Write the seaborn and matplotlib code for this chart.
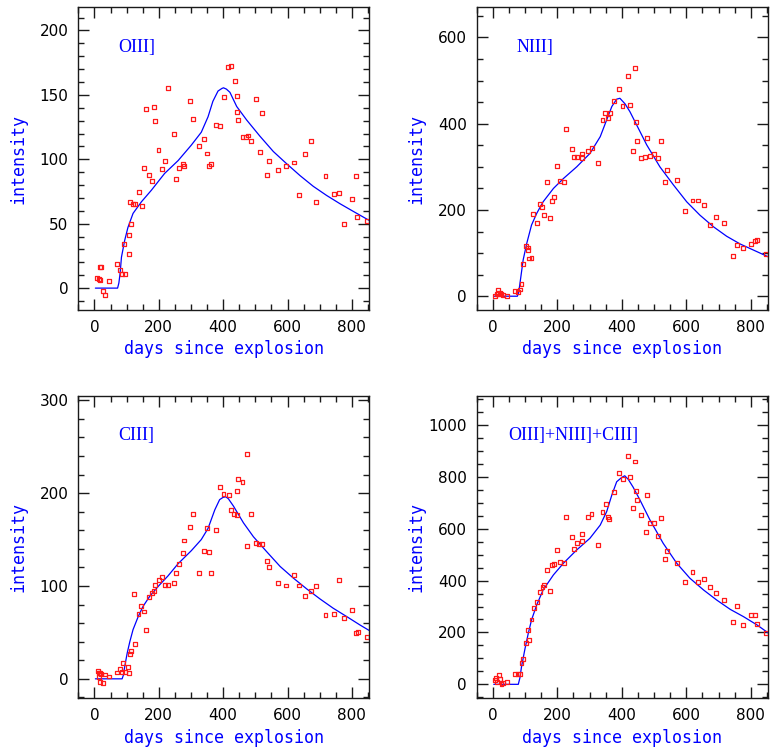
import numpy as np
import pandas as pd
import seaborn as sns
import matplotlib.pyplot as plt
from matplotlib.ticker import MultipleLocator

# observed line intensities (days since explosion, intensity)
o3_day = [9, 13, 17, 18, 21, 27, 32, 44, 69, 80, 86, 96, 91, 106, 106, 113, 110, 120, 127, 138,
          147, 154, 161, 169, 178, 186, 189, 199, 209, 220, 228, 246, 253, 263, 276, 277, 297, 306,
          325, 340, 350, 355, 361, 377, 389, 402, 416, 424, 436, 443, 444, 447, 460, 472, 476, 487,
          502, 514, 522, 535, 541, 570, 596, 619, 635, 653, 674, 689, 718, 743, 759, 775, 799, 814,
          817, 848]
o3_int = [8, 7, 6.5, 16.5, 16.5, -2.5, -5.5, 5.5, 18.5, 14, 11, 11, 34, 26.5, 41, 49.5, 67, 65.5,
          65.5, 74.5, 63.5, 93.5, 139, 87.5, 83.5, 140.5, 130, 107.5, 92.5, 98.5, 155, 119.5, 85,
          93.5, 96.5, 94.5, 145, 131.5, 110.5, 115.5, 104.5, 94.5, 96.5, 126.5, 125.5, 148.5, 171.5,
          172.5, 160.5, 149, 137, 130.5, 117, 117.5, 118.5, 114, 147, 106, 136, 87.5, 99, 92, 95,
          97.5, 72, 104, 114, 67, 87, 73, 74, 50, 69, 87, 55, 52]

n3_day = [8, 12, 17, 17, 21, 27, 31, 43, 68, 79, 83, 89, 94, 104, 108, 110, 112, 120, 126, 138,
          146, 153, 160, 168, 176, 184, 189, 198, 208, 220, 228, 245, 252, 262, 277, 277, 296, 307,
          325, 340, 349, 356, 362, 375, 390, 402, 418, 424, 435, 442, 443, 447, 459, 472, 477, 486,
          500, 513, 521, 535, 541, 570, 596, 619, 636, 654, 674, 691, 717, 744, 758, 775, 800, 813,
          818, 847]
n3_int = [0, 5, 15.5, 6, 8, 5, 2, 0, 12, 10, 15.5, 28, 74, 116, 108, 113, 87.5, 89, 190, 170, 214,
          207, 188, 264, 181, 221, 231, 301, 268, 264, 388, 342, 322, 322, 331, 320, 337, 343, 310,
          409, 425, 413, 424, 453, 481, 441, 510, 443, 337, 530, 403, 361, 320, 323, 366, 326, 329,
          320, 360, 265, 293, 269, 198, 222, 222, 212, 166, 183, 169, 93, 118, 111, 121, 128, 130, 98]

c3_day = [10, 13, 15, 18, 20, 18, 26, 34, 44, 69, 80, 86, 90, 94, 103, 108, 111, 114, 122, 127,
          137, 146, 154, 161, 169, 178, 184, 188, 200, 210, 220, 229, 246, 253, 264, 276, 278, 297,
          305, 325, 340, 351, 356, 361, 377, 389, 401, 418, 424, 435, 443, 443, 447, 460, 475, 473,
          487, 501, 512, 522, 535, 541, 570, 596, 619, 635, 653, 674, 689, 718, 744, 759, 775, 800,
          814, 818, 848]
c3_int = [8.3, 2, 6, 6, 5, -3.6, -4.7, 4.7, 2.5, 6.8, 11, 7.5, 17, 7.5, 13, 6, 27, 29.5, 91, 38,
          70, 78, 72.5, 53, 88, 92, 95, 101, 106, 110, 101, 101, 103, 113.5, 124, 135.5, 149, 163.5,
          177.5, 114, 138, 162.5, 137, 114, 160, 206.5, 199.5, 197.5, 182, 178, 176, 202, 215.5,
          211.5, 242, 143.5, 178, 146, 145, 145, 127, 120, 103.5, 100.5, 111.5, 100.5, 89.5, 94.5,
          99.5, 68.5, 70, 106, 66, 74.5, 49.5, 50.5, 45.5]

sum_day = [8, 10, 13, 18, 21, 27, 31, 43, 68, 79, 83, 89, 94, 104, 108, 112, 120, 127, 138, 146,
           154, 160, 168, 177, 184, 189, 198, 209, 220, 228, 245, 252, 262, 277, 277, 296, 306, 325,
           340, 350, 356, 361, 375, 390, 403, 418, 424, 435, 442, 443, 447, 459, 474, 477, 486, 501,
           513, 521, 535, 541, 570, 596, 619, 636, 654, 674, 691, 717, 744, 758, 775, 800, 813, 818,
           847]
sum_int = [17, 23, 10, 35, 19, 1, 6, 10, 41, 38.5, 40, 82, 96, 158, 209, 170, 250, 296, 316, 357,
           375, 384, 442, 360, 461, 465, 518, 473, 467, 646, 567, 521, 544, 553, 580, 646, 655, 537,
           664, 694, 646, 636, 742, 815, 792, 882, 800, 679, 859, 745, 711, 652, 586, 729, 621, 623,
           573, 643, 482, 514, 467, 395, 432, 395, 407, 375, 351, 325, 239, 301, 230, 267, 267, 234,
           197]

# model curves
o3_mday = [3, 72, 76, 80, 84, 94, 104, 120, 146, 177, 218, 260, 301, 332, 353, 368, 384, 396, 401,
           410, 421, 442, 473, 514, 556, 597, 639, 680, 721, 763, 804, 854]
o3_mint = [0, 0, 4, 12, 24, 37, 47, 58, 67, 76, 89, 99, 111, 121, 133, 145, 153, 155, 155.5, 154.5,
           152, 141, 130.5, 118, 106, 96.6, 87.3, 79, 72, 65.5, 59.6, 52.5]

n3_mday = [3, 76, 80, 84, 94, 105, 120, 136, 156, 188, 219, 260, 301, 333, 353, 369, 384, 394, 410,
           425, 446, 477, 518, 560, 601, 642, 684, 725, 767, 808, 855]
n3_mint = [0, 0, 8, 29, 84, 122, 165, 192, 219, 250, 273, 300, 331, 370, 409, 440, 457, 459, 446,
           428, 397, 351, 300, 258, 219, 188, 161, 139, 121, 107, 91]

c3_mday = [3, 86, 90, 94, 102, 110, 120, 136, 151, 172, 198, 229, 260, 301, 332, 353, 374, 389, 400,
           408, 416, 432, 463, 494, 535, 577, 618, 659, 701, 742, 784, 825, 854]
c3_mint = [0, 0, 4, 13, 28, 40, 53, 67, 78, 89, 99.5, 111, 124, 138, 150, 162, 182, 193, 195.5, 196,
           194, 186, 168, 153, 137, 121, 108.5, 97, 86, 76, 67, 58, 52]

sum_mday = [3, 79, 84, 89, 100, 110, 120, 136, 156, 188, 219, 260, 301, 333, 353, 369, 384, 400,
            409, 420, 435, 456, 487, 528, 570, 611, 653, 694, 736, 777, 819, 855]
sum_mint = [0, 0, 25, 68, 139, 197, 248, 306, 364, 422, 467, 518, 563, 614, 666, 730, 781, 798,
            804, 790, 760, 711, 634, 544, 467, 409, 364, 325, 289, 261, 229, 197]

panel_names = ["OIII]", "NIII]", "CIII]", "OIII]+NIII]+CIII]"]

sns.set_theme(style="ticks")
plt.rcParams['font.family'] = ['DejaVu Sans']

fig = plt.figure(figsize=(7.77, 7.53), dpi=100)

panels = [
    # data, model, rect, ylim, major, minor, label x
    (o3_day, o3_int, o3_mday, o3_mint, [0.1008, 0.5883, 0.3745, 0.4020], (-17, 218), 50, 10, 0.137),
    (n3_day, n3_int, n3_mday, n3_mint, [0.6135, 0.5883, 0.3753, 0.4020], (-32, 670), 200, 50, 0.137),
    (c3_day, c3_int, c3_mday, c3_mint, [0.1008, 0.0726, 0.3745, 0.4020], (-21, 305), 100, 20, 0.137),
    (sum_day, sum_int, sum_mday, sum_mint, [0.6135, 0.0726, 0.3753, 0.4020], (-54, 1113), 200, 50, 0.108),
]

for (dd, di, md, mi, rect, ylim, major, minor, lx), name in zip(panels, panel_names):
    ax = fig.add_axes(rect)
    obs = pd.DataFrame({"day": dd, "intensity": di})
    mod = pd.DataFrame({"day": md, "intensity": mi})
    sns.lineplot(data=mod, x="day", y="intensity", ax=ax, color="#0000ff", linewidth=0.9)
    sns.scatterplot(data=obs, x="day", y="intensity", ax=ax, marker="s", s=8,
                    facecolor="none", edgecolor="#ff1a1a", linewidth=0.9, zorder=3)

    ax.set_xlim(-50, 854)
    ax.set_ylim(*ylim)
    ax.xaxis.set_major_locator(MultipleLocator(200))
    ax.xaxis.set_minor_locator(MultipleLocator(50))
    ax.yaxis.set_major_locator(MultipleLocator(major))
    ax.yaxis.set_minor_locator(MultipleLocator(minor))
    ax.tick_params(which="both", direction="in", top=True, right=True,
                   bottom=True, left=True, color="#1a1a1a", width=1.0)
    ax.tick_params(which="major", length=8, labelsize=11, pad=7, labelcolor="black")
    ax.tick_params(which="minor", length=4.3)
    for sp in ax.spines.values():
        sp.set_color("#1a1a1a")
        sp.set_linewidth(1.0)

    ax.set_xlabel("days since explosion", color="#0000ff", family="DejaVu Sans Mono", fontsize=12)
    ax.set_ylabel("intensity", color="#0000ff", family="DejaVu Sans Mono", fontsize=12)
    ax.xaxis.set_label_coords(0.5, -0.10)
    ax.yaxis.set_label_coords(-0.175, 0.5)
    ax.text(lx, 0.868, name, transform=ax.transAxes, color="#0000ff",
            family="Liberation Serif", fontsize=13, va="center", ha="left")

fig.savefig("out.png", dpi=100, facecolor="white")
